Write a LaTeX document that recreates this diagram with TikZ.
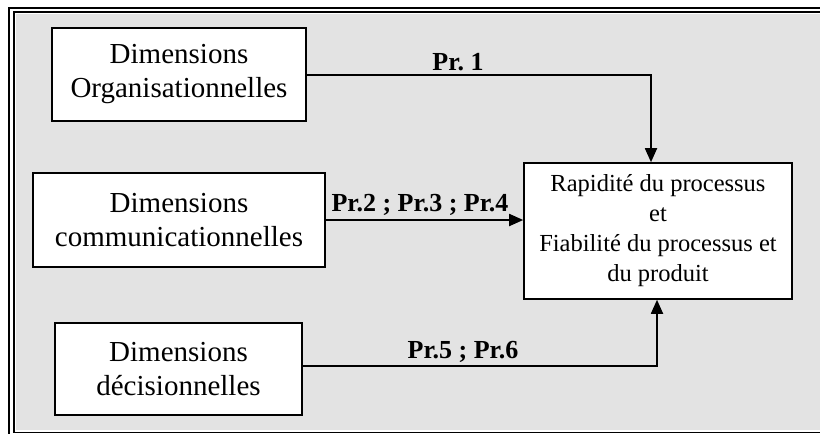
\documentclass[tikz,border=0pt]{standalone}
\usepackage{fontspec}
\setmainfont{Liberation Serif}
\usetikzlibrary{arrows.meta}
\definecolor{bggray}{RGB}{227,227,227}
\frenchspacing
\begin{document}
\begin{tikzpicture}[x=1pt,y=-1pt,
  box/.style={draw, line width=1.6pt, fill=white, align=center, inner sep=0pt,
    font=\fontsize{29}{34}\selectfont},
  conn/.style={line width=1.8pt, -{Triangle[length=14pt,width=12pt]}},
  lbl/.style={font=\fontsize{26}{28}\selectfont\bfseries, anchor=base, inner sep=0pt},
  frameouter/.style={line width=2.6pt},
  frameinner/.style={line width=1.8pt}]
\clip (0,0) rectangle (820,434);
\fill[white] (0,0) rectangle (820,434);
\fill[bggray] (16,14) rectangle (830,429.5);
\draw[frameinner] (14,12) rectangle (830,432.4);
\draw[frameouter] (9,8) rectangle (830,440);

\node[box, minimum width=254pt, minimum height=93pt] (org) at (179,74.5) {Dimensions\\Organisationnelles};
\node[box, minimum width=292pt, minimum height=94pt] (com) at (179,220) {Dimensions\\communicationnelles};
\node[box, minimum width=247pt, minimum height=92pt] (dec) at (178.5,369) {Dimensions\\décisionnelles};
\node[box, minimum width=268pt, minimum height=136pt, font=\fontsize{24.5}{30}\selectfont] (res) at (658,231)
  {Rapidité du processus\\et\\Fiabilité du processus et\\du produit};

\coordinate (k1) at (651,75);
\coordinate (k3) at (657,366);
\draw[conn] (org.east |- k1) -- (k1) -- (res.north -| k1);
\draw[conn] (com.east) -- (res.west |- com.east);
\draw[conn] (dec.east |- k3) -- (k3) -- (res.south -| k3);

\node[lbl] (p1) at (458,70) {Pr. 1};
\node[lbl] (p2) at (420,211) {Pr.2 ; Pr.3 ; Pr.4};
\node[lbl] (p3) at (463,358) {Pr.5 ; Pr.6};
\end{tikzpicture}
\end{document}
